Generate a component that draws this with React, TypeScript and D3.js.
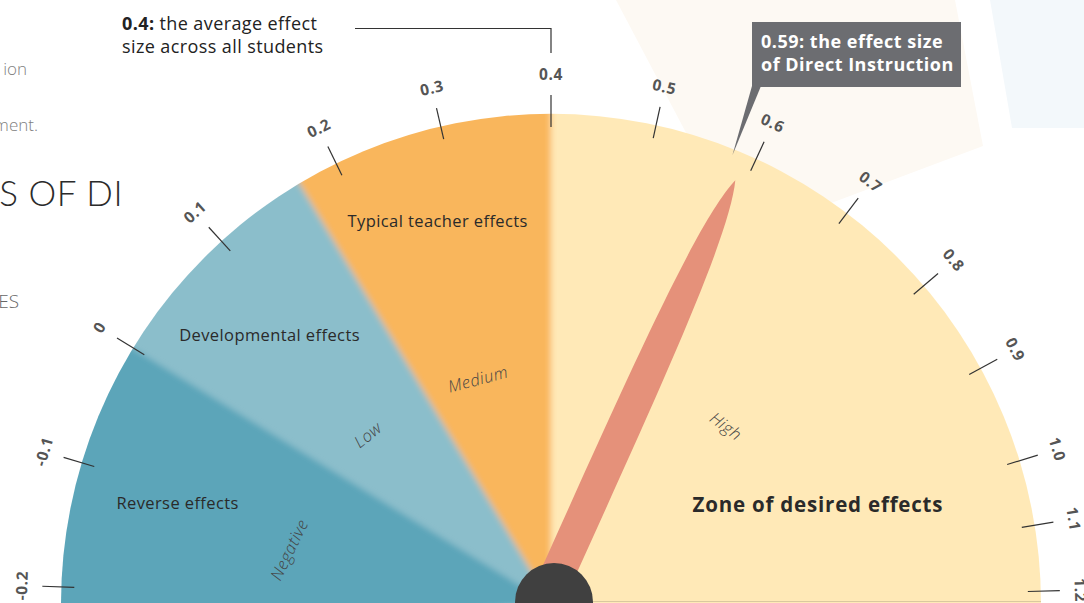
import React from 'react';
import * as d3 from 'd3';

// ---- data ----
const tickValues = [-0.2, -0.1, 0, 0.1, 0.2, 0.3, 0.4, 0.5, 0.6, 0.7, 0.8, 0.9, 1.0, 1.1, 1.2];
const tickLabels = ['-0.2', '-0.1', '0', '0.1', '0.2', '0.3', '0.4', '0.5', '0.6', '0.7', '0.8', '0.9', '1.0', '1.1', '1.2'];
const zoneNames = ['Reverse effects', 'Developmental effects', 'Typical teacher effects', 'Zone of desired effects'];
const zoneStarts = [-0.2, 0, 0.17, 0.4];
const zoneEnds = [0, 0.17, 0.4, 1.2];
const bandNames = ['Negative', 'Low', 'Medium', 'High'];
const bandMids = [-0.1, 0.1, 0.3, 0.8];
const averageEffect = 0.4;
const diEffect = 0.59;

// ---- styles / layout ----
const zoneColors = ['#5ca5b9', '#8bbecb', '#f9b65b', '#ffe9b7'];
const W = 1084;
const H = 603;
const cx = 551;
const cy = 604;
const R = 490;
const FONT = "'Open Sans', 'Noto Sans', sans-serif";
const zoneLabelR = [387, 390, 400];
const bandLabelR = [268, 250, 237, 250];

// gauge angle (degrees, 0 = straight up, clockwise positive)
const angle = d3
  .scaleLinear()
  .domain([-0.2, 0, 0.2, 0.4, 0.8, 1.0, 1.2])
  .range([-88, -58.5, -26, 0, 49.5, 73, 88.5]);

const rad = (deg: number) => (deg * Math.PI) / 180;
const polar = (deg: number, r: number): [number, number] => [
  cx + r * Math.sin(rad(deg)),
  cy - r * Math.cos(rad(deg)),
];

const sectorPath = (r0: number, r1: number, a0: number, a1: number) =>
  (d3.arc() as any)({ innerRadius: r0, outerRadius: r1, startAngle: rad(a0), endAngle: rad(a1) }) as string;

export default function App() {
  const clipD = sectorPath(0, R, -90, 90);

  const sectors = zoneNames.map((name, i) => {
    const a0 = i === 0 ? -95 : angle(zoneStarts[i]);
    const a1 = i === zoneNames.length - 1 ? 95 : angle(zoneEnds[i]);
    return { name, color: zoneColors[i], d: sectorPath(0, R + 30, a0, a1) };
  });

  const zoneLabelPos = zoneNames.map((name, i) => {
    if (i === zoneNames.length - 1) return polar(angle(0.97), 285);
    const mid = (zoneStarts[i] + zoneEnds[i]) / 2;
    return polar(angle(mid) - 1.5, zoneLabelR[i]);
  });

  // needle: pivot slightly left of the gauge centre, tip on the value angle
  const diAngle = angle(diEffect);
  const tip = polar(diAngle, R - 28);
  const pivot: [number, number] = [cx - 6, cy - 2];
  const L = Math.hypot(tip[0] - pivot[0], tip[1] - pivot[1]);
  const nAng = (Math.atan2(tip[0] - pivot[0], pivot[1] - tip[1]) * 180) / Math.PI;
  const needlePath = `M -17 0 C -17 ${-0.5 * L} -19 ${-0.88 * L} 0 ${-L} C 19 ${-0.88 * L} 17 ${-0.5 * L} 17 0 Z`;

  const avgX = polar(angle(averageEffect), R)[0];
  const pointerTip = polar(diAngle - 1.5, 484);

  return (
    <svg width={W} height={H} style={{ position: 'absolute', left: 0, top: 0, background: '#fff' }}>
      <defs>
        <clipPath id="gaugeClip">
          <path d={clipD} transform={`translate(${cx},${cy})`} />
        </clipPath>
        <filter id="soft" x="-10%" y="-10%" width="120%" height="120%">
          <feGaussianBlur stdDeviation="3.4" />
        </filter>
      </defs>

      <polygon points="616,0 955,0 983,146 741,237" fill="#fdf9f3" />
      <polygon points="990,0 1084,0 1084,128 1012,128" fill="#f3f8fb" />

      <g fontFamily={FONT}>
        <text x={27} y={75} textAnchor="end" fontSize={17} fill="#808080" fontWeight={300}>ion</text>
        <text x={38} y={131} textAnchor="end" fontSize={17} fill="#808080" fontWeight={300}>ment.</text>
        <text x={123} y={206} textAnchor="end" fontSize={35} fill="#2b2b2b" fontWeight={300} fontFamily="Lato, sans-serif" letterSpacing={0.5}>S OF DI</text>
        <text x={19} y={308} textAnchor="end" fontSize={19} fill="#666" fontWeight={300}>ES</text>
      </g>

      <g clipPath="url(#gaugeClip)">
        <g filter="url(#soft)" transform={`translate(${cx},${cy})`}>
          {sectors.map((s) => (
            <path key={s.name} d={s.d} fill={s.color} />
          ))}
        </g>
      </g>
      <line x1={cx} x2={cx + R} y1={601.5} y2={601.5} stroke="#d9c89f" strokeWidth={1} />

      <g>
        {tickValues.map((v, i) => {
          const a = angle(v);
          const [x1, y1] = polar(a, 477);
          const [x2, y2] = polar(a, 509);
          const [lx, ly] = polar(a, 530);
          return (
            <g key={tickLabels[i]}>
              <line x1={x1} y1={y1} x2={x2} y2={y2} stroke="#333" strokeWidth={1.2} />
              <text
                x={lx}
                y={ly}
                transform={`rotate(${a},${lx},${ly})`}
                textAnchor="middle"
                dominantBaseline="central"
                fontFamily={FONT}
                fontWeight={700}
                fontSize={15.5}
                letterSpacing={0.6}
                fill="#555"
              >
                {tickLabels[i]}
              </text>
            </g>
          );
        })}
      </g>

      <g fontFamily={FONT} fill="#2a2a2a">
        {zoneNames.map((name, i) => {
          const [x, y] = zoneLabelPos[i];
          const last = i === zoneNames.length - 1;
          return (
            <text
              key={name}
              x={x}
              y={y}
              textAnchor="middle"
              dominantBaseline="central"
              fontSize={last ? 20.5 : 16.5}
              fontWeight={last ? 700 : 400}
              letterSpacing={last ? 0.8 : 0.4}
            >
              {name}
            </text>
          );
        })}
      </g>

      <g fontFamily={FONT} fill="#444" fontStyle="italic" fontWeight={300} fontSize={16.5} letterSpacing={0.5}>
        {bandNames.map((name, i) => {
          const pa = angle(bandMids[i]) - 5;
          const [x, y] = polar(pa, bandLabelR[i]);
          return (
            <text
              key={name}
              x={x}
              y={y}
              textAnchor="middle"
              dominantBaseline="central"
              transform={`rotate(${0.82 * pa},${x},${y})`}
            >
              {name}
            </text>
          );
        })}
      </g>

      <path d={needlePath} fill="#e5917a" transform={`translate(${pivot[0]},${pivot[1]}) rotate(${nAng})`} />
      <circle cx={cx + 3} cy={cy - 2} r={39} fill="#404040" />

      <g fontFamily={FONT} fill="#222" fontSize={18} letterSpacing={0.4}>
        <text x={122} y={30}>
          <tspan fontWeight={700}>0.4:</tspan>
          <tspan> the average effect</tspan>
        </text>
        <text x={122} y={53}>size across all students</text>
      </g>
      <polyline points={`355,28.5 ${avgX},28.5 ${avgX},53`} fill="none" stroke="#333" strokeWidth={1.2} />

      <rect x={752} y={22} width={209} height={65} fill="#6c6d71" />
      <polygon points={`752,86 761,86 ${pointerTip[0]},${pointerTip[1]}`} fill="#6c6d71" />
      <g fontFamily={FONT} fill="#fff" fontWeight={700} fontSize={18} letterSpacing={0.5}>
        <text x={761} y={48}>0.59: the effect size</text>
        <text x={761} y={71}>of Direct Instruction</text>
      </g>
    </svg>
  );
}
